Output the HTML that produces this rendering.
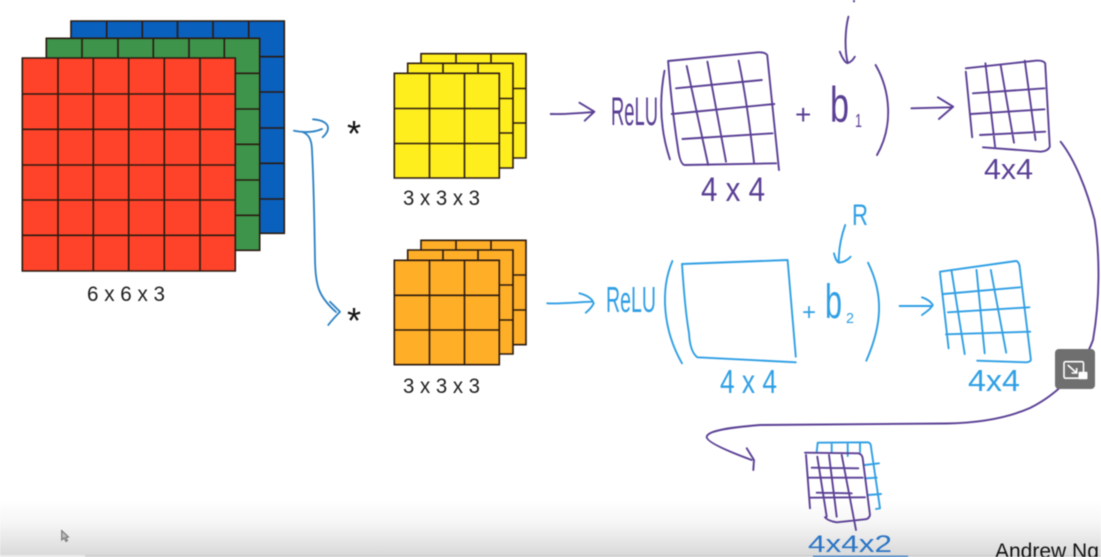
<!DOCTYPE html>
<html lang="en">
<head>
<meta charset="utf-8">
<title>Convolution layer diagram</title>
<style>
html,body{margin:0;padding:0;background:#fff;width:1101px;height:557px;overflow:hidden}
svg{display:block;filter:blur(0.45px)}
.sans{font-family:"Liberation Sans",sans-serif;fill:#1c1c1c}
.hand{font-family:"Liberation Sans",sans-serif}
.p{fill:none;stroke:#5a3f94;stroke-width:1.9;stroke-linecap:round;stroke-linejoin:round}
.b{fill:none;stroke:#2f9fe4;stroke-width:1.9;stroke-linecap:round;stroke-linejoin:round}
.g{fill:none;stroke:#2a1a10;stroke-width:1.6}
.tp{fill:#5a3f94}
.tb{fill:#2f9fe4}
</style>
</head>
<body>
<svg xmlns="http://www.w3.org/2000/svg" width="1101" height="557" viewBox="0 0 1101 557">
<defs>
<linearGradient id="fade" x1="0" y1="0" x2="0" y2="1">
<stop offset="0" stop-color="#ffffff"/>
<stop offset="0.4" stop-color="#f6f6f6"/>
<stop offset="1" stop-color="#d8d8d8"/>
</linearGradient>
</defs>
<rect x="0" y="0" width="1101" height="557" fill="#fff"/>

<g>
<g>
<rect x="71" y="21" width="213.3" height="212.3" fill="#0a60bd"/>
<path class="g" d="M71 21H284.3V233.3H71ZM106.7 21V233M142.3 21V233M177.5 21V233M213 21V233M248.7 21V233M71 56.7H284M71 92H284M71 128H284M71 163.3H284M71 199H284"/>
</g>
<g>
<rect x="46.3" y="38.3" width="213.4" height="212" fill="#3d944a"/>
<path class="g" d="M46.3 38.3H259.7V250.3H46.3ZM82 38.3V250M118 38.3V250M153.3 38.3V250M189 38.3V250M224.3 38.3V250M46.3 73.3H259.7M46.3 109H259.7M46.3 144.3H259.7M46.3 180H259.7M46.3 215.3H259.7"/>
</g>
<g>
<rect x="22.3" y="58" width="213" height="213" fill="#ff432a"/>
<path class="g" d="M22.3 58H235.3V271H22.3ZM58 58V271M93.3 58V271M128.7 58V271M164.3 58V271M200 58V271M22.3 94H235.3M22.3 129.3H235.3M22.3 165H235.3M22.3 200H235.3M22.3 235.3H235.3"/>
</g>
<text class="sans" x="87" y="301" font-size="21" textLength="78" lengthAdjust="spacingAndGlyphs">6 x 6 x 3</text>
</g>

<g>
<path d="M294 130.7C305 133 315 132 322 129M313 119.3C322 120 328 123 328 128C328 132 325 135 322.7 137.3M301.7 131.7C309 134 311.7 140 312 150C314 190 314.5 230 315 260C315.5 285 318 296 336 312M330 301.7L340 311.7C336 316 332 320 328.3 325" fill="none" stroke="#2a80c4" stroke-width="1.8" stroke-linecap="round" stroke-linejoin="round"/>
</g>
<text x="354" y="146" text-anchor="middle" font-size="36" fill="#111" font-family="'Liberation Sans',sans-serif">*</text>
<text x="354" y="333" text-anchor="middle" font-size="36" fill="#111" font-family="'Liberation Sans',sans-serif">*</text>

<g>
<path class="g" style="fill:#ffee1e" d="M421 53.7H526V158H421ZM456 53.7V158M491 53.7V158M421 88.5H526M421 123H526"/>
<path class="g" style="fill:#ffee1e" d="M407.7 63.3H513V168H407.7ZM443 63.3V168M478 63.3V168M407.7 98.5H513M407.7 133H513"/>
<path class="g" style="fill:#ffee1e" d="M394.3 73.3H499.3V178H394.3ZM429.5 73.3V178M464.5 73.3V178M394.3 108.5H499.3M394.3 143.5H499.3"/>
<text class="sans" x="403" y="205" font-size="21" textLength="77" lengthAdjust="spacingAndGlyphs">3 x 3 x 3</text>
</g>

<g>
<path class="g" style="fill:#ffae27" d="M421 240.3H526V344.7H421ZM456 240.3V344.7M491 240.3V344.7M421 275H526M421 310H526"/>
<path class="g" style="fill:#ffae27" d="M407.7 250H513V354H407.7ZM443 250V354M478 250V354M407.7 285H513M407.7 320H513"/>
<path class="g" style="fill:#ffae27" d="M394.3 260.3H499.3V364.7H394.3ZM429.5 260.3V364.7M464.5 260.3V364.7M394.3 295.3H499.3M394.3 330H499.3"/>
<text class="sans" x="403" y="393" font-size="21" textLength="77" lengthAdjust="spacingAndGlyphs">3 x 3 x 3</text>
</g>

<g>
<path class="p" d="M550.7 114C565 114.5 580 113 593.7 112M579.4 102.7L594.4 111.7L584.7 120.7"/>
<text class="hand tp" x="611" y="125" font-size="40" textLength="47" lengthAdjust="spacingAndGlyphs">ReLU</text>
<path class="p" d="M664.5 70.7C660 95 658.5 125 669.9 159.3"/>
<path class="p" d="M668.1 61L758.2 52.3Q765 52 767.2 55L779 170M668.1 61Q672 110 677.7 146.7Q680 165 685 165L776.1 163.3M686.7 66L708.2 165M707.4 61.7L726 161.7M738.6 60.7Q747 100 754 162.3M676 88.3L761.8 80M671.7 114L774.3 104M682.4 139L772.6 133.3"/>
<text class="hand tp" x="701" y="201" font-size="34" textLength="64" lengthAdjust="spacingAndGlyphs">4 x 4</text>
<path class="p" d="M848.4 16.7C845 30 844.5 50 847.7 62.7M839.8 51.7C842 58 846 64 848 63C851 62 853 60 854.8 56.7M854 0V1.5"/>
<text class="hand tp" x="795" y="124" font-size="28">+</text>
<text class="hand tp" x="830" y="122" font-size="50" textLength="19" lengthAdjust="spacingAndGlyphs">b</text>
<text class="hand tp" x="855" y="127" font-size="18" textLength="7" lengthAdjust="spacingAndGlyphs">1</text>
<path class="p" d="M875.6 65C890 90 894 125 877 155"/>
<path class="p" d="M911.4 108.3L951.4 107.3M937.9 97.3L953.2 106.7L938.9 119"/>
<path class="p" d="M965.8 68.3L1035.5 60.7Q1043 60 1045.2 63.3L1049.8 146.7Q1048 151 1040.9 151.7L982.9 147.3M965.8 71.7L972.2 137.3M985.4 63.3L995.1 146.7M1000.8 66L1014 142.7M1024.8 60.7L1035.5 140M972.9 93.3L1044.5 88.3M971.1 114L1044.5 109.3M980 135L1045.2 131.7"/>
<text class="hand tp" x="984" y="179" font-size="29" textLength="49" lengthAdjust="spacingAndGlyphs">4x4</text>
</g>

<g>
<path class="b" d="M547.2 303.3C562 304 578 302 591.9 301.7M579.4 293.3C586 295 592 298 593.7 303.3C592 307 589 310 585.8 312.7"/>
<text class="hand tb" x="606" y="312" font-size="36" textLength="50" lengthAdjust="spacingAndGlyphs">ReLU</text>
<path class="b" d="M672.4 261C660 290 663 330 682 363.3"/>
<path class="b" d="M682 264L787.6 260L795.8 356.7M682 264Q685 310 689 333Q690 352 697.4 357.3L795.8 362.3"/>
<text class="hand tb" x="720" y="393" font-size="33" textLength="57" lengthAdjust="spacingAndGlyphs">4 x 4</text>
<text class="hand tb" x="852" y="225" font-size="30" textLength="16" lengthAdjust="spacingAndGlyphs">R</text>
<path class="b" d="M845.2 225C841 237 838.5 250 838.8 262.7M834 253.3C835 258 837 262 839 262.7C843 262.5 848 260 850.6 256.7"/>
<text class="hand tb" x="802" y="320" font-size="24">+</text>
<text class="hand tb" x="825" y="318" font-size="48" textLength="17" lengthAdjust="spacingAndGlyphs">b</text>
<text class="hand tb" x="846" y="323" font-size="15" textLength="8" lengthAdjust="spacingAndGlyphs">2</text>
<path class="b" d="M868 262.7C884 295 882 325 866.3 360.7"/>
<path class="b" d="M899.6 306L931.8 306M922 297.3C927 299 931 302 932.8 305C931 309 926 312 922 315"/>
<path class="b" d="M940 271.7L1015.9 261Q1018 261 1019.4 265L1030.9 360Q1030 362 1026.6 362.3L977.2 360.7M940 273L948.6 348.3M951.4 270L964.7 354M976.5 270L984.7 353.3M990.8 270L1006.2 352.7M943.6 294L1020.1 287.3M947.9 312.3L1029.4 307.3M946 334.3L1030.2 331.7"/>
<text class="hand tb" x="968" y="391" font-size="31" textLength="52" lengthAdjust="spacingAndGlyphs">4x4</text>
</g>

<path d="M1060.6 141.7C1075 160 1087 190 1094.6 220C1100 255 1100 300 1093 340C1084 365 1062 392 1030 408C1005 419 975 423 946.7 423.5L760 425C735 427 708 430 706.7 436.7C706 442 730 452 751.7 460M746.7 448.3L754 460L753.3 470" fill="none" stroke="#5a3f94" stroke-width="1.9" stroke-linecap="round" stroke-linejoin="round"/>

<rect x="0" y="500" width="1101" height="57" fill="url(#fade)"/>
<rect x="0" y="555" width="85" height="2" fill="#e9e9e9"/>
<rect x="85" y="555" width="1016" height="2" fill="#cfcfcf"/>

<g>
<path class="b" d="M816.7 451.7L817.7 442.7L868 442.3Q871 443 871 447L880 508.3L876 509M831.7 443V452M847.7 443V456M860 443V452M865 465L879 463.3M865 478.3L876.7 477.7M868.3 495L881 494"/>
<path class="p" d="M805 452.7L858.3 453.3Q862 454 862.7 458.3L870 515Q869 519 865 519.3L836.7 522.3Q828 521 825 517.3M806 455L810 508.3M817.3 456.7L826.7 516.7M829 455L836.7 516.7M841.7 455L856 530M811.7 467.7L858.3 468.3M808.3 477.7L862.7 477.7M816.7 492.7L851.7 493.3M810 497.7L865 497.3"/>
<text class="hand" x="808" y="552" font-size="24" fill="#2a74c4" textLength="84" lengthAdjust="spacingAndGlyphs">4x4x2</text>
<path d="M813 556.5L908 556.5" stroke="#2a74c4" stroke-width="1.5" fill="none"/>
</g>

<text x="995" y="558" font-family="'Liberation Sans',sans-serif" font-size="21" fill="#111">Andrew Ng</text>

<path d="M61.7 530.5V540L64 538L66 541.5L67.5 540.5L65.8 537.5L68.5 537Z" fill="#bdbdbd" stroke="#6e6e6e" stroke-width="1"/>

<g>
<rect x="1055" y="349" width="40" height="40" rx="4" fill="#6f6f6f"/>
<rect x="1064" y="361.7" width="19.5" height="16.5" rx="1.5" fill="none" stroke="#fff" stroke-width="1.6"/>
<path d="M1067.7 365L1076.7 373M1076.7 368V373H1071.5" fill="none" stroke="#fff" stroke-width="1.6"/>
<rect x="1078.5" y="371.7" width="9" height="7.6" rx="1" fill="#fff"/>
</g>
</svg>
</body>
</html>
